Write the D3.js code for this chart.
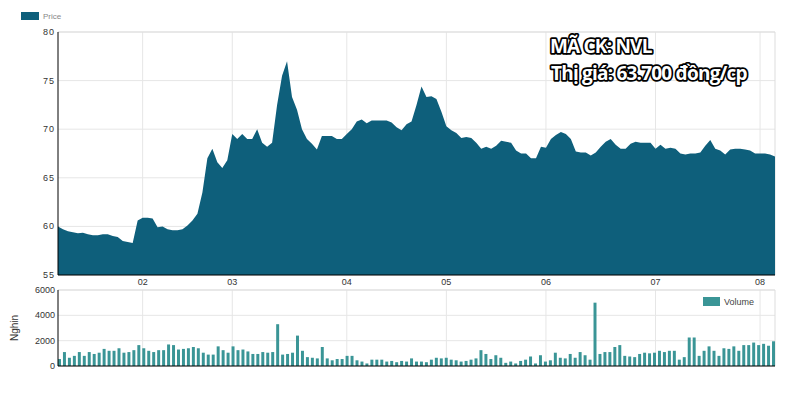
<!DOCTYPE html>
<html><head><meta charset="utf-8">
<script src="https://cdn.jsdelivr.net/npm/d3@7"></script>
<style>body{margin:0;background:#fff}</style>
</head><body><div id="chart"></div>
<script>
// trading-day prices (nghìn đồng)
const price = [60.0,59.7,59.5,59.4,59.3,59.35,59.2,59.1,59.1,59.2,59.2,59.0,58.9,58.5,58.4,58.3,60.6,
  60.9,60.9,60.8,59.9,60.0,59.7,59.6,59.6,59.7,60.1,60.6,61.3,63.5,67.0,68.0,66.6,66.0,66.8,
  69.5,69.0,69.5,69.0,69.0,70.0,68.6,68.2,68.6,72.5,75.5,77.0,73.3,72.0,70.0,69.0,68.5,67.9,69.3,69.3,69.3,69.0,69.0,
  69.5,70.0,70.8,71.0,70.6,70.9,70.9,70.9,70.9,70.7,70.2,69.9,70.5,70.8,72.5,74.4,73.3,73.4,73.1,71.8,
  70.3,69.9,69.6,69.1,69.2,69.1,68.6,68.0,68.2,68.0,68.3,68.8,68.7,68.6,67.8,67.5,67.5,67.0,67.0,68.2,
  68.1,69.0,69.4,69.7,69.5,69.0,67.7,67.6,67.6,67.3,67.6,68.2,68.7,69.0,68.4,68.0,68.0,68.5,68.7,68.6,68.6,68.6,
  68.0,68.4,68.0,68.1,68.0,67.5,67.4,67.5,67.5,67.6,68.3,68.9,68.0,67.8,67.4,67.9,68.0,68.0,67.9,67.8,67.5,
  67.5,67.5,67.4,67.2];
// volume (nghìn cp)
const volume = [550,1100,650,800,1100,800,1100,950,1050,1350,1200,1200,1400,1050,1100,1250,1650,
  1400,1200,1100,1250,1250,1700,1650,1300,1350,1400,1500,1400,1050,900,900,1550,1250,1050,
  1550,1250,1300,1150,950,950,1100,1050,1100,3300,900,950,1050,2400,1200,700,650,600,1500,600,450,550,550,
  800,800,450,350,200,500,500,500,350,400,300,400,350,600,350,350,300,500,650,600,
  650,500,450,350,400,500,600,1250,950,550,850,650,250,350,200,400,500,750,200,850,
  350,450,1050,650,600,950,650,1100,850,500,5000,950,1100,1100,1500,1650,800,750,700,950,1050,1000,
  1050,1200,1100,1200,1200,500,700,2250,2250,800,1200,1550,1200,800,1400,1350,1550,1200,1650,1650,1850,
  1650,1750,1600,1950];
const monthLabels = ["02","03","04","05","06","07","08"];
const monthStart = [17,35,58,78,98,120,141];
const priceTicks = [55,60,65,70,75,80];
const volTicks = [0,2000,4000,6000];

const W = 799, H = 401, L = 58, R = 775;
const svg = d3.select("#chart").append("svg").attr("width", W).attr("height", H)
  .style("font-family", "Arial, 'Liberation Sans', sans-serif");

const x = d3.scaleLinear().domain([0, price.length - 1]).range([L, R]);
const y = d3.scaleLinear().domain([55, 80]).range([275, 32]);
const yv = d3.scaleLinear().domain([0, 6000]).range([366, 290]);
const xb = d3.scaleBand().domain(d3.range(volume.length)).range([L, R]).paddingInner(0.4);

function panel(top, bottom, ys, ticks, fmt) {
  const g = svg.append("g");
  g.selectAll(".hg").data(ticks).enter().append("line")
    .attr("x1", L).attr("x2", R).attr("y1", d => ys(d)).attr("y2", d => ys(d))
    .attr("stroke", "#e6e6e6");
  g.selectAll(".vg").data(monthStart).enter().append("line")
    .attr("x1", d => x(d)).attr("x2", d => x(d)).attr("y1", top).attr("y2", bottom)
    .attr("stroke", "#e6e6e6");
  g.append("line").attr("x1", R).attr("x2", R).attr("y1", top).attr("y2", bottom).attr("stroke", "#ddd");
  g.append("line").attr("x1", L).attr("x2", R).attr("y1", top).attr("y2", top).attr("stroke", "#ddd");
  g.selectAll(".yt").data(ticks).enter().append("text")
    .attr("x", L - 3).attr("y", d => ys(d) + 3).attr("text-anchor", "end")
    .attr("font-size", 9).attr("fill", "#333").attr("letter-spacing", fmt ? 1 : 0)
    .text(d => fmt ? d : d);
  return g;
}

// price panel
panel(32, 275, y, priceTicks, true);
svg.append("path").datum(price)
  .attr("fill", "#0e5f7b")
  .attr("d", d3.area().x((d, i) => x(i)).y0(y(55)).y1(d => y(d)));
svg.append("line").attr("x1", L).attr("x2", L).attr("y1", 32).attr("y2", 275).attr("stroke", "#000");
svg.append("line").attr("x1", L).attr("x2", R).attr("y1", 275).attr("y2", 275).attr("stroke", "#000");
svg.selectAll(".mx").data(monthStart).enter().append("text")
  .attr("x", d => x(d)).attr("y", 285).attr("text-anchor", "middle")
  .attr("font-size", 9).attr("fill", "#333").text((d, i) => monthLabels[i]);

// volume panel
panel(290, 366, yv, volTicks, false);
svg.selectAll(".bar").data(volume).enter().append("rect")
  .attr("x", (d, i) => xb(i)).attr("width", xb.bandwidth())
  .attr("y", d => yv(d)).attr("height", d => yv(0) - yv(d))
  .attr("fill", "#3a9596");
svg.append("line").attr("x1", L).attr("x2", L).attr("y1", 290).attr("y2", 366).attr("stroke", "#000");
svg.append("line").attr("x1", L).attr("x2", R).attr("y1", 366).attr("y2", 366).attr("stroke", "#000");
svg.append("text").attr("transform", "translate(18,328) rotate(-90)")
  .attr("text-anchor", "middle").attr("font-size", 10).attr("fill", "#333").text("Nghin");

// legends
svg.append("rect").attr("x", 21).attr("y", 12).attr("width", 18).attr("height", 8).attr("fill", "#0e5f7b");
svg.append("text").attr("x", 43).attr("y", 19).attr("font-size", 8).attr("fill", "#888").text("Price");
svg.append("rect").attr("x", 703).attr("y", 297).attr("width", 17).attr("height", 9).attr("fill", "#3a9596");
svg.append("text").attr("x", 724).attr("y", 305).attr("font-size", 9).attr("fill", "#444").text("Volume");

// title overlay
const title = svg.append("g").attr("font-family", "'Open Sans', sans-serif").attr("font-weight", "bold")
  .attr("font-size", 19).attr("fill", "#fff").attr("stroke", "#000").attr("stroke-width", 3.5)
  .attr("paint-order", "stroke").attr("stroke-linejoin", "round").attr("letter-spacing", -0.8);
title.append("text").attr("x", 550).attr("y", 53).text("MÃ CK: NVL");
title.append("text").attr("x", 551).attr("y", 80).text("Thị giá: 63.700 đồng/cp");
</script></body></html>
